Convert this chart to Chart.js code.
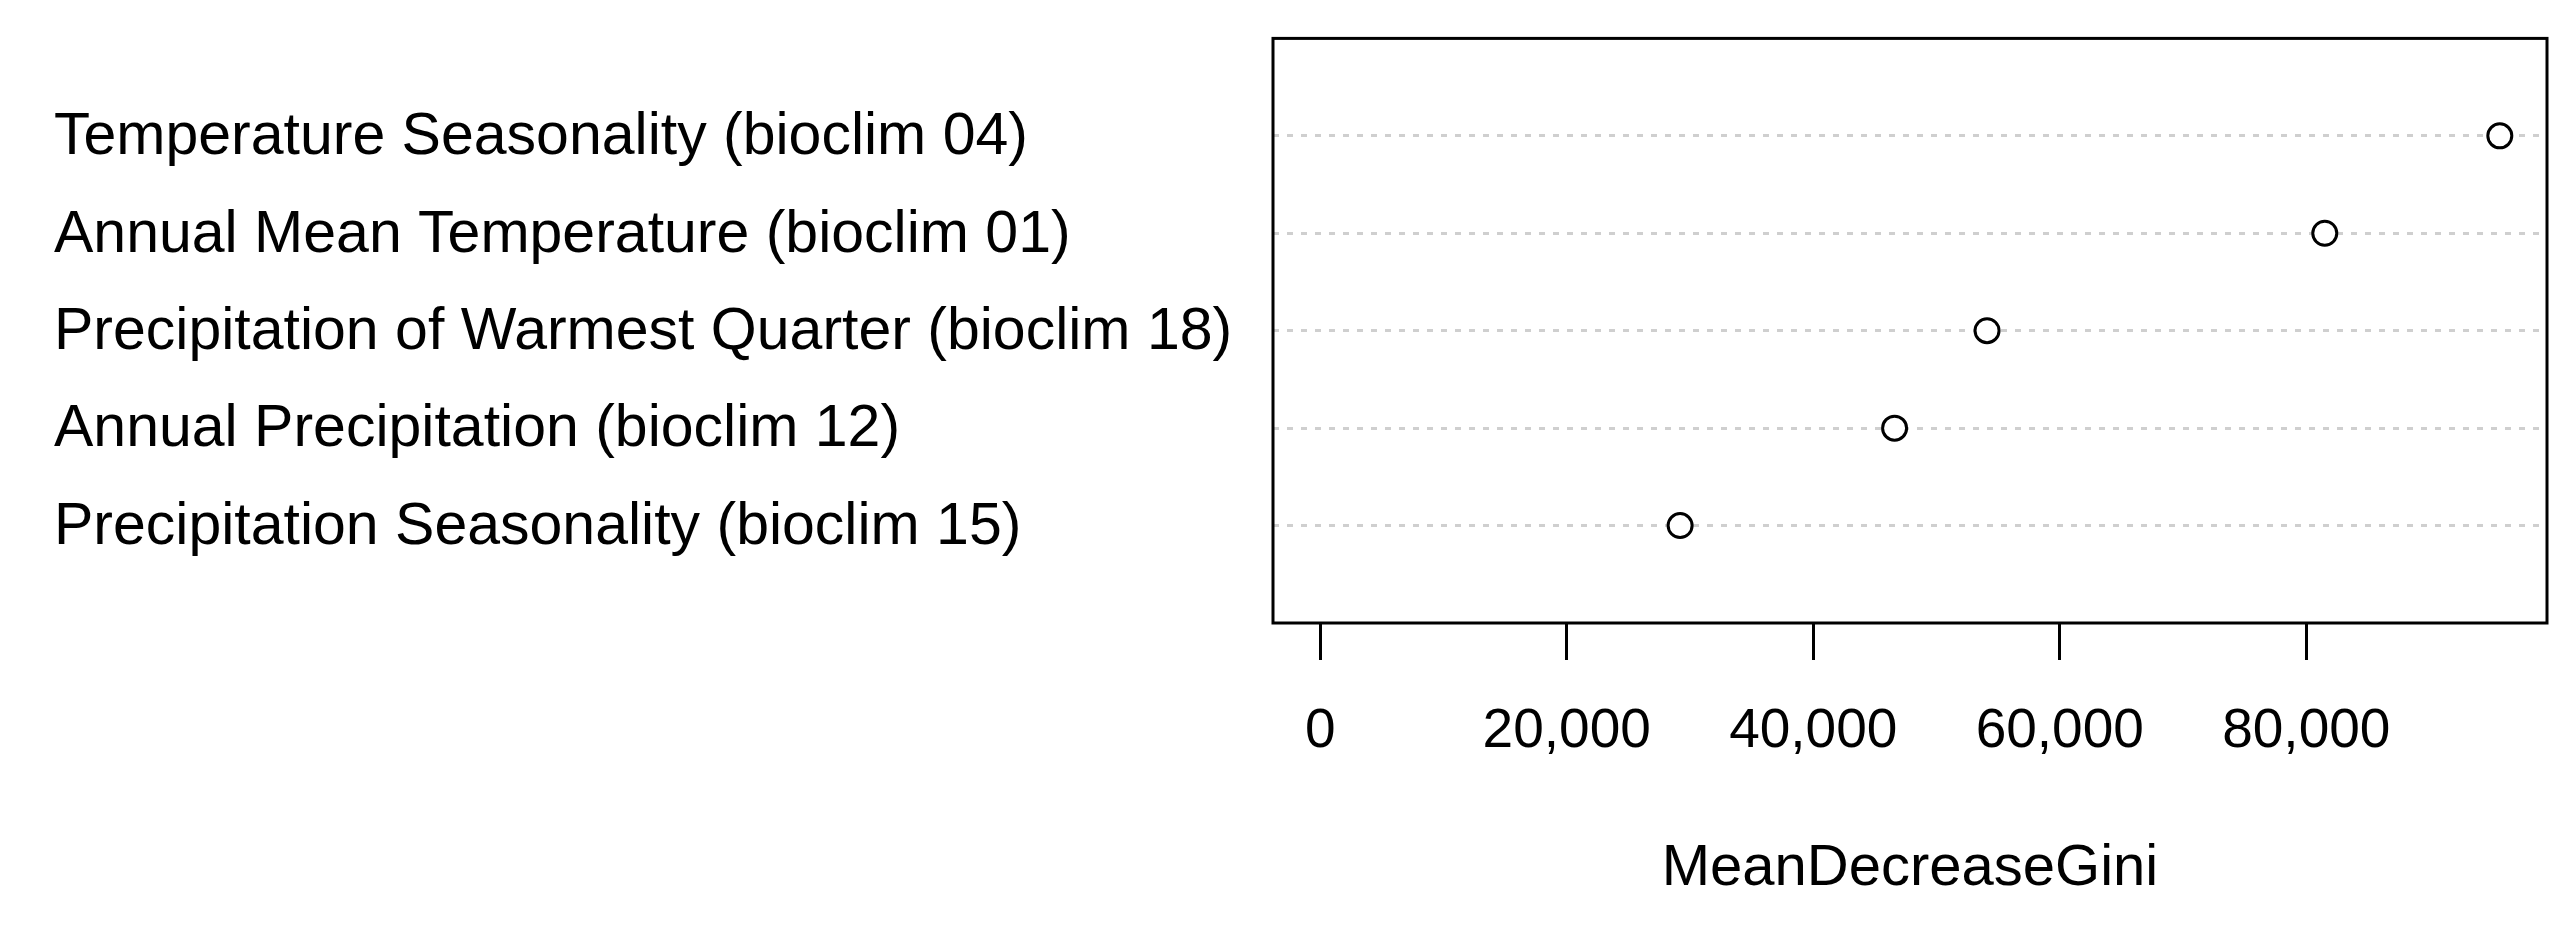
<!DOCTYPE html>
<html>
<head>
<meta charset="utf-8">
<script src="https://cdn.jsdelivr.net/npm/chart.js@4.4.1/dist/chart.umd.min.js"></script>
<style>
  html, body { margin: 0; padding: 0; background: #ffffff; }
  #wrap { width: 2572px; height: 934px; }
</style>
</head>
<body>
<div id="wrap"><canvas id="c" width="2572" height="934"></canvas></div>
<script>
// Categories, top to bottom
const categories = [
  "Temperature Seasonality (bioclim 04)",
  "Annual Mean Temperature (bioclim 01)",
  "Precipitation of Warmest Quarter (bioclim 18)",
  "Annual Precipitation (bioclim 12)",
  "Precipitation Seasonality (bioclim 15)"
];
// MeanDecreaseGini values (same order)
const giniValues = [95700, 81500, 54100, 46600, 29200];
// X axis tick values
const xTicks = [0, 20000, 40000, 60000, 80000];
const xTitle = "MeanDecreaseGini";

const n = categories.length;
const maxVal = Math.max(...giniValues);
const xMin = -0.04 * maxVal;
const xMax = 1.04 * maxVal;
const rowPos = categories.map((_, i) => n - i);

const FONT = "'Liberation Sans', Arial, sans-serif";

const boxPlugin = {
  id: 'box',
  afterDatasetsDraw(chart) {
    const {ctx, chartArea: a} = chart;
    ctx.save();
    ctx.strokeStyle = '#000';
    ctx.lineWidth = 3;
    ctx.strokeRect(a.left, a.top, a.right - a.left, a.bottom - a.top);
    ctx.restore();
  }
};

new Chart(document.getElementById('c'), {
  type: 'scatter',
  data: {
    datasets: [{
      data: giniValues.map((v, i) => ({x: v, y: rowPos[i]})),
      pointStyle: 'circle',
      pointRadius: 12,
      pointHoverRadius: 12,
      pointBorderWidth: 3,
      pointBorderColor: '#000',
      pointBackgroundColor: '#fff',
      showLine: false
    }]
  },
  options: {
    responsive: false,
    animation: false,
    events: [],
    layout: { padding: { left: 54, right: 25, top: 32, bottom: 0 } },
    plugins: { legend: { display: false }, tooltip: { enabled: false } },
    scales: {
      x: {
        type: 'linear',
        position: 'bottom',
        min: xMin,
        max: xMax,
        afterBuildTicks: (axis) => { axis.ticks = xTicks.map(v => ({value: v})); },
        afterFit: (axis) => { axis.height = 934 - 623; },
        border: { display: false },
        grid: {
          display: true,
          drawOnChartArea: false,
          drawTicks: true,
          tickLength: 37,
          tickColor: '#000',
          tickWidth: 3
        },
        ticks: {
          color: '#000',
          font: { family: FONT, size: 55 },
          padding: 39,
          maxRotation: 0,
          autoSkip: false,
          callback: (v) => Number(v).toLocaleString('en-US')
        },
        title: {
          display: true,
          text: xTitle,
          color: '#000',
          font: { family: FONT, size: 58 },
          padding: { top: 0, bottom: 30 }
        }
      },
      y: {
        type: 'linear',
        position: 'left',
        min: 0,
        max: n + 1,
        afterBuildTicks: (axis) => { axis.ticks = rowPos.map(v => ({value: v})); },
        afterFit: (axis) => { axis.width = 1273 - 54; },
        border: { display: false, dash: [6, 8] },
        grid: {
          display: true,
          drawOnChartArea: true,
          drawTicks: false,
          color: '#cfcfcf',
          lineWidth: 3
        },
        ticks: {
          color: '#000',
          font: { family: FONT, size: 59 },
          crossAlign: 'far',
          autoSkip: false,
          labelOffset: 2,
          callback: (v) => categories[n - v]
        }
      }
    }
  },
  plugins: [boxPlugin]
});
</script>
</body>
</html>
